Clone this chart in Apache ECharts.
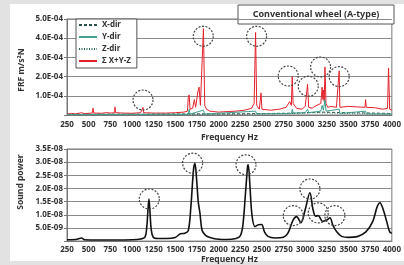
<!DOCTYPE html>
<html>
<head>
<meta charset="utf-8">
<script src="https://cdn.jsdelivr.net/npm/echarts@6/dist/echarts.min.js"></script>
<style>
  html, body { margin: 0; padding: 0; background: #e2e2e2; }
  #chart { width: 404px; height: 265px; }
</style>
</head>
<body>
<div id="chart"></div>
<script>
// FRF (units of 1E-04 m/s2N): [frequency Hz, value]
const frfSum = [
  [250, 0.05], [300, 0.08], [350, 0.06], [420, 0.12], [450, 0.07], [540, 0.1], [550, 0.35], [560, 0.1],
  [650, 0.09], [700, 0.12], [760, 0.1], [800, 0.12], [804, 0.42], [810, 0.12], [900, 0.1], [1000, 0.09],
  [1100, 0.12], [1127, 0.4], [1135, 0.12], [1250, 0.1], [1400, 0.1], [1500, 0.12], [1600, 0.15],
  [1640, 0.2], [1650, 0.9], [1660, 1.05], [1670, 0.3], [1700, 0.35], [1720, 0.8], [1735, 0.4],
  [1760, 1.2], [1775, 1.45], [1790, 0.5], [1810, 0.6], [1825, 4.5], [1840, 0.5], [1860, 0.3],
  [1900, 0.2], [2000, 0.15], [2100, 0.18], [2200, 0.2], [2300, 0.25], [2380, 0.35], [2410, 0.6],
  [2427, 4.3], [2440, 0.5], [2470, 0.3], [2490, 1.15], [2500, 0.3], [2600, 0.25], [2700, 0.3],
  [2780, 0.4], [2820, 0.7], [2840, 0.5], [2850, 2.0], [2860, 0.6], [2900, 0.35], [2960, 0.3],
  [3000, 0.45], [3027, 1.6], [3040, 0.4], [3080, 0.35], [3110, 0.45], [3130, 0.35], [3180, 0.6],
  [3195, 1.45], [3205, 0.8], [3210, 1.3], [3220, 0.7], [3228, 2.5], [3240, 0.6], [3260, 0.4],
  [3300, 0.45], [3360, 0.4], [3392, 2.3], [3400, 0.4], [3500, 0.45], [3600, 0.42], [3690, 0.4],
  [3697, 0.8], [3705, 0.4], [3800, 0.38], [3900, 0.3], [3950, 0.35], [3962, 2.45], [3975, 0.3],
  [4000, 0.25]
];
const frfX = [
  [250, 0.03], [600, 0.04], [1000, 0.04], [1500, 0.05], [1800, 0.06], [2200, 0.06], [2600, 0.08],
  [2900, 0.1], [3200, 0.15], [3500, 0.12], [3800, 0.1], [4000, 0.08]
];
const frfY = [
  [250, 0.02], [1000, 0.03], [1650, 0.04], [1660, 0.3], [1670, 0.05], [1825, 0.25], [1840, 0.05],
  [2427, 0.2], [2440, 0.06], [2840, 0.08], [2850, 0.3], [2860, 0.1], [3000, 0.12], [3027, 0.3],
  [3040, 0.12], [3180, 0.2], [3195, 0.5], [3210, 0.25], [3228, 0.8], [3240, 0.2], [3392, 0.3],
  [3400, 0.08], [3697, 0.2], [3705, 0.06], [4000, 0.05]
];
const frfZ = [
  [250, 0.02], [800, 0.03], [1500, 0.03], [2000, 0.04], [2800, 0.06], [3100, 0.12], [3300, 0.1],
  [3600, 0.06], [4000, 0.05]
];

// Sound power (units of 1E-08): [frequency Hz, value]
const soundPower = [
  [250, 0.05], [350, 0.06], [420, 0.12], [450, 0.05], [600, 0.04], [800, 0.04], [1000, 0.05],
  [1100, 0.08], [1150, 0.15], [1170, 0.5], [1185, 1.2], [1196, 1.6], [1208, 1.1], [1222, 0.45],
  [1245, 0.15], [1300, 0.1], [1400, 0.1], [1500, 0.14], [1560, 0.28], [1610, 0.3], [1650, 0.4],
  [1680, 1.3], [1710, 2.7], [1727, 2.96], [1745, 2.4], [1765, 1.5], [1785, 1.05], [1810, 0.4],
  [1850, 0.22], [1900, 0.14], [2000, 0.07], [2100, 0.06], [2200, 0.1], [2250, 0.2], [2280, 0.6],
  [2310, 1.8], [2335, 2.85], [2342, 2.9], [2360, 2.2], [2385, 1.0], [2420, 0.55], [2460, 0.62],
  [2497, 0.63], [2530, 0.35], [2570, 0.18], [2650, 0.12], [2750, 0.15], [2800, 0.3], [2860, 0.8],
  [2900, 0.93], [2950, 0.7], [3000, 1.2], [3054, 1.84], [3090, 1.2], [3120, 0.95], [3150, 0.97],
  [3200, 0.75], [3250, 0.8], [3285, 0.89], [3320, 0.6], [3360, 0.37], [3420, 0.18], [3500, 0.14],
  [3600, 0.17], [3700, 0.35], [3780, 0.75], [3830, 1.3], [3862, 1.46], [3900, 1.2], [3940, 0.75],
  [3975, 0.35], [4000, 0.3]
];

// dotted circles marking the peaks
const frfCircles = [[1127, 0.78], [1823, 4.1], [2439, 4.1], [2804, 2.03], [3035, 1.5], [3177, 2.5], [3392, 2.0]];
const soundCircles = [[1200, 1.6], [1700, 2.96], [2316, 2.9], [2862, 0.97], [3054, 1.98], [3150, 1.07], [3342, 0.97]];

const freqTicks = [250, 4000, 250]; // min, max, step

const font = 'Noto Sans';
const txt = { fontFamily: font, fontSize: 8, fontWeight: 'bold', color: '#333' };

const circleMarks = (list) => ({
  symbol: 'circle',
  symbolSize: 20,
  silent: true,
  label: { show: false },
  itemStyle: { color: 'rgba(0,0,0,0)', borderColor: '#444', borderWidth: 1.2, borderType: [2, 1.5] },
  data: list.map((c) => ({ coord: c })),
});

const xAxisBase = (gridIndex, nameGap, margin) => ({
  type: 'value',
  gridIndex,
  min: freqTicks[0],
  max: freqTicks[1],
  interval: freqTicks[2],
  name: 'Frequency Hz',
  nameLocation: 'middle',
  nameGap,
  nameTextStyle: { ...txt, fontSize: 8.5 },
  axisLine: { show: true, onZero: false, lineStyle: { color: '#777' } },
  axisTick: { show: false },
  splitLine: { show: false },
  axisLabel: { ...txt, margin, formatter: (v) => String(v) },
});

const chart = echarts.init(document.getElementById('chart'), null, { renderer: 'canvas' });
chart.setOption({
  animation: false,
  backgroundColor: '#e2e2e2',
  graphic: [
    { type: 'rect', z: -100, shape: { x: 10, y: 4, width: 394, height: 257 }, style: { fill: '#fff' } },
    {
      type: 'group', z: 100,
      children: [
        { type: 'rect', shape: { x: 238, y: 5, width: 156, height: 19 }, style: { fill: '#fff', stroke: '#555', lineWidth: 1 } },
        { type: 'text', x: 316, y: 14.5, style: { text: 'Conventional wheel (A-type)', fill: '#333', font: 'bold 9px "Noto Sans"', align: 'center', verticalAlign: 'middle' } },
      ],
    },
    { type: 'text', x: 22, y: 70, rotation: Math.PI / 2, style: { text: 'FRF m/s²N', fill: '#333', font: 'bold 8.5px "Noto Sans"', align: 'center', verticalAlign: 'middle' } },
    { type: 'text', x: 21, y: 182, rotation: Math.PI / 2, style: { text: 'Sound power', fill: '#333', font: 'bold 8.5px "Noto Sans"', align: 'center', verticalAlign: 'middle' } },
  ],
  legend: {
    orient: 'vertical',
    left: 76,
    top: 19,
    backgroundColor: '#fff',
    borderColor: '#555',
    borderWidth: 1,
    borderRadius: 0,
    padding: [2, 6, 3, 2],
    itemWidth: 18,
    itemHeight: 8,
    itemGap: 4,
    itemStyle: { color: 'rgba(0,0,0,0)', borderWidth: 0 },
    textStyle: { ...txt, fontSize: 8 },
    data: ['X-dir', 'Y-dir', 'Z-dir', 'Σ X+Y-Z'],
  },
  grid: [
    { left: 67, right: 12, top: 19, height: 96, show: true, borderColor: '#777', borderWidth: 1, backgroundColor: '#fff' },
    { left: 67, right: 10, top: 149, height: 92.5, show: true, borderColor: '#777', borderWidth: 1, backgroundColor: '#fff' },
  ],
  xAxis: [xAxisBase(0, 18, 6), xAxisBase(1, 12, 5)],
  yAxis: [
    {
      type: 'value', gridIndex: 0, min: 0, max: 5, interval: 1,
      axisLine: { show: true, lineStyle: { color: '#777' } },
      axisTick: { show: true, length: 3, lineStyle: { color: '#777' } },
      splitLine: { lineStyle: { color: '#8a8a8a', width: 1 } },
      axisLabel: { ...txt, margin: 4, formatter: (v) => (v === 0 ? '' : v.toFixed(1) + 'E-04') },
    },
    {
      type: 'value', gridIndex: 1, min: 0, max: 3.5, interval: 0.5,
      axisLine: { show: true, lineStyle: { color: '#777' } },
      axisTick: { show: true, length: 3, lineStyle: { color: '#777' } },
      splitLine: { lineStyle: { color: '#8a8a8a', width: 1 } },
      axisLabel: {
        ...txt, margin: 4,
        formatter: (v) => (v === 0 ? '' : v === 0.5 ? '5.0E-09' : v.toFixed(1) + 'E-08'),
      },
    },
  ],
  series: [
    {
      name: 'X-dir', type: 'line', xAxisIndex: 0, yAxisIndex: 0, symbol: 'none',
      lineStyle: { color: '#2f4f4f', width: 1, type: [3, 2] }, itemStyle: { color: '#2f4f4f' },
      data: frfX, z: 3,
    },
    {
      name: 'Y-dir', type: 'line', xAxisIndex: 0, yAxisIndex: 0, symbol: 'none',
      lineStyle: { color: '#3fa08c', width: 1 }, itemStyle: { color: '#3fa08c' },
      data: frfY, z: 4,
    },
    {
      name: 'Z-dir', type: 'line', xAxisIndex: 0, yAxisIndex: 0, symbol: 'none',
      lineStyle: { color: '#2e6b55', width: 1, type: [1, 1.5] }, itemStyle: { color: '#2e6b55' },
      data: frfZ, z: 3,
    },
    {
      name: 'Σ X+Y-Z', type: 'line', xAxisIndex: 0, yAxisIndex: 0, symbol: 'none',
      lineStyle: { color: '#e5222b', width: 1 }, itemStyle: { color: '#e5222b' },
      data: frfSum, z: 2,
      markPoint: circleMarks(frfCircles),
    },
    {
      name: 'Sound power', type: 'line', xAxisIndex: 1, yAxisIndex: 1, symbol: 'none',
      smooth: 0.35,
      lineStyle: { color: '#111', width: 1.6 }, itemStyle: { color: '#111' },
      data: soundPower,
      markPoint: circleMarks(soundCircles),
    },
  ],
});
</script>
</body>
</html>
